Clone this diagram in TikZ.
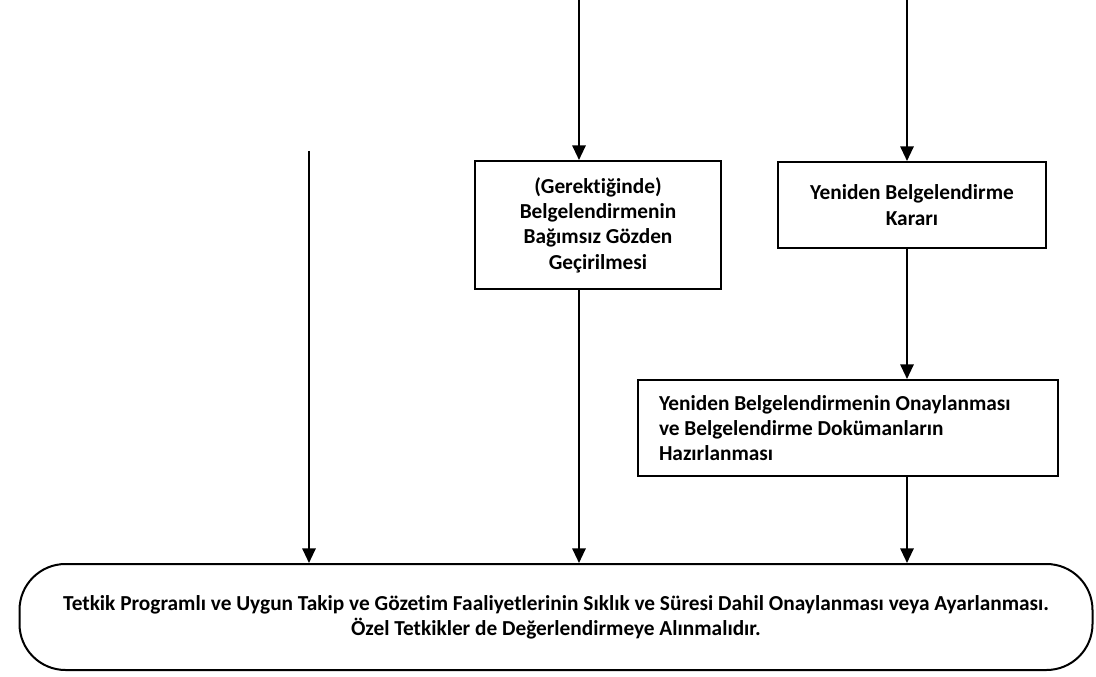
\documentclass[tikz,border=0pt]{standalone}
\usepackage{fontspec}
\setmainfont{Carlito}[Ligatures=NoCommon]
\usetikzlibrary{arrows.meta}
\tikzset{
  flowbox/.style={draw,line width=1.5pt,font=\bfseries\fontsize{16pt}{19pt}\selectfont,inner sep=0pt,align=center},
  flowarrow/.style={line width=1.5pt,-{Triangle[length=11pt,width=10pt]}},
}
\begin{document}
\begin{tikzpicture}[x=0.75pt,y=-0.75pt]
        \useasboundingbox (0,0) rectangle (1096,677);
        %% Boxes
        \node[flowbox,minimum width=246*0.75pt,minimum height=128*0.75pt] (review) at (598,225)
            {(Gerektiğinde)\\Belgelendirmenin\\Bağımsız Gözden\\Geçirilmesi};
        \node[flowbox,minimum width=268*0.75pt,minimum height=86*0.75pt] (decision) at (912,205)
            {Yeniden Belgelendirme\\Kararı};
        \node[flowbox,align=flush left,text width=378*0.75pt,inner xsep=21*0.75pt,minimum height=96*0.75pt] (approval) at (848,428)
            {Yeniden Belgelendirmenin Onaylanması\\ve Belgelendirme Dokümanların\\Hazırlanması};
        \node[flowbox,rounded corners=46*0.75pt,minimum width=1073*0.75pt,minimum height=106*0.75pt] (plan) at (556,617)
            {Tetkik Programlı ve Uygun Takip ve Gözetim Faaliyetlerinin Sıklık ve Süresi Dahil Onaylanması veya Ayarlanması.\\Özel Tetkikler de Değerlendirmeye Alınmalıdır.};
        %% Arrows
        \coordinate (left)  at (309,151);
        \coordinate (mid)   at (579,0);
        \coordinate (right) at (907,0);
        \draw[flowarrow] (left) -- (left |- plan.north);
        \draw[flowarrow] (mid) -- (mid |- review.north);
            \draw[flowarrow] (review.south -| mid) -- (mid |- plan.north);
        \draw[flowarrow] (right) -- (right |- decision.north);
            \draw[flowarrow] (decision.south -| right) -- (right |- approval.north);
            \draw[flowarrow] (approval.south -| right) -- (right |- plan.north);
    \end{tikzpicture}
\end{document}
